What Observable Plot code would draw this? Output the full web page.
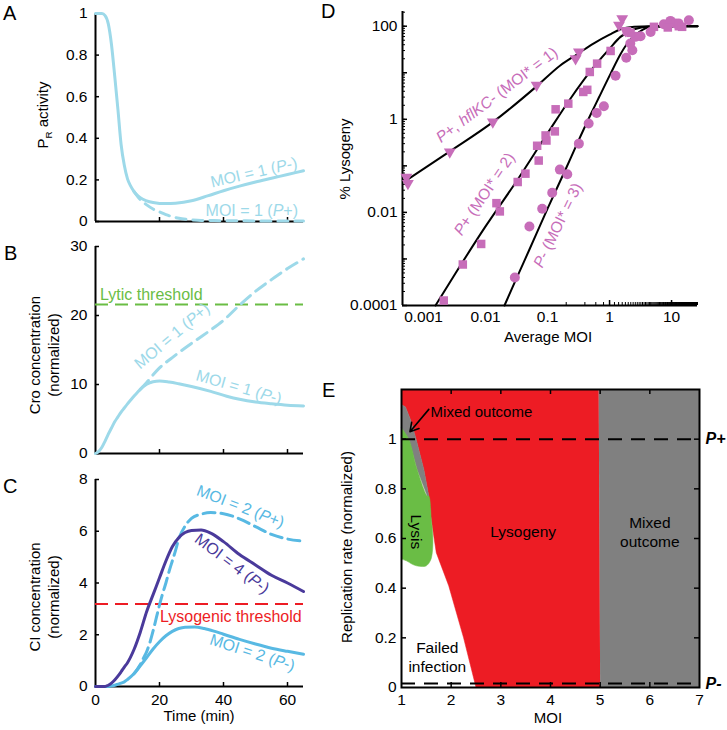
<!DOCTYPE html>
<html><head><meta charset="utf-8">
<script src="https://cdn.jsdelivr.net/npm/d3@7"></script>
<script src="https://cdn.jsdelivr.net/npm/@observablehq/plot@0.6"></script>
<style>
html,body{margin:0;padding:0;background:#fff;}
#wrap{position:relative;width:727px;height:730px;overflow:hidden;font-family:"Liberation Sans",Arial,Helvetica,sans-serif;}
</style></head>
<body><div id="wrap"></div>
<script>
// ---------------- DATA ----------------
// Panel A: PR activity vs time
const aTime  = [0,2,3,4,5,6,7,8,9,10,11,12,13,14,16,18,20,22,25,30,35,40,45,50,55,60,65];
const aSolid = [1,1,0.99,0.95,0.85,0.70,0.54,0.37,0.27,0.205,0.17,0.145,0.127,0.114,0.099,0.091,0.087,0.086,0.088,0.1,0.123,0.148,0.17,0.19,0.208,0.226,0.244];
const aDashTime = [12,14,16,18,20,22,24,27,30,33,40,50,65];
const aDash     = [0.145,0.105,0.08,0.06,0.046,0.033,0.023,0.013,0.008,0.005,0.004,0.003,0.003];
const aYTicks = [0,0.2,0.4,0.6,0.8,1];
// Panel B: Cro
const bTime  = [0,1,2,3,4,5,6,7,8,9,10,11,12,13,14,16,18,20,23,26,30,36,41,45,50,55,60,65];
const bSolid = [0,0.3,0.9,1.8,2.8,3.7,4.6,5.3,6.0,6.6,7.2,7.75,8.3,8.8,9.3,10.05,10.4,10.5,10.35,10.1,9.7,9.0,8.3,7.85,7.45,7.2,7.0,6.9];
const bDashTime = [14,16,18,20,24,28,32,36,40,45,50,55,60,65];
const bDash     = [9.3,10.3,11.4,12.4,13.9,15.3,16.6,17.9,19.3,21.5,23.5,25.2,26.8,28.2];
const bYTicks = [0,10,20,30];
const lyticThreshold = 21.6;
// Panel C: CI
const cTime   = [0,3,4,5,6,7,8,9,10,12,14,16,18,20,22,24,26,28,30,33,36,40,45,50,55,60,65];
const cMoi4   = [0,0,0.05,0.13,0.25,0.40,0.57,0.75,0.92,1.42,2.1,2.9,3.55,4.2,4.85,5.4,5.75,5.95,6.03,6.05,5.93,5.6,5.1,4.7,4.3,4.0,3.67];
const cLTime  = [0,4,5,6,7,8,9,10,12,14,16,18,20,22,24,26,28,31,34,37,40,45,50,55,60,65];
const cMoi2   = [0,0,0.02,0.05,0.09,0.13,0.18,0.27,0.49,0.8,1.12,1.45,1.73,1.96,2.13,2.24,2.29,2.3,2.24,2.14,2.02,1.82,1.64,1.48,1.36,1.25];
const cDTime  = [12,14,15,16,17,18,19,20,21,22,23,24,25,26,28,30,33,36,40,45,50,55,60,65];
const cMoi2P  = [0.49,0.85,1.1,1.35,1.7,2.15,2.65,3.15,3.6,4.0,4.45,4.85,5.25,5.7,6.2,6.5,6.66,6.72,6.68,6.48,6.18,5.88,5.7,5.62];
const cYTicks = [0,2,4,6,8];
const lysoThreshold = 3.19;
const timeTicks = [20,40,60];
const timeLabels = [0,20,40,60];
// Panel D: % lysogeny vs average MOI
const triMoi = [0.00053,0.00056,0.00265,0.0131,0.0666,0.283,0.32,1.42,1.6,1.81];
const triLys = [0.057,0.042,0.2,0.88,5.4,20,28,105,146,80];
const sqMoi = [0.00212,0.0043,0.0085,0.015,0.017,0.033,0.044,0.068,0.072,0.093,0.096,0.131,0.135,0.216,0.377,0.437,0.48,0.63,1.04,1.9,2.18,5.2,8.7,13.1,14.8];
const sqLys = [0.000128,0.00076,0.0021,0.0158,0.0105,0.045,0.068,0.27,0.13,0.45,0.35,0.55,1.64,2.17,3.87,4.3,10.4,15.7,29.4,78,72,97,94,100,97];
const ciMoi = [0.0297,0.051,0.082,0.119,0.158,0.208,0.32,0.46,0.62,0.81,1.25,1.86,2.33,2.16,2.6,3.16,4.6,7.5,9.6,11.5,13,19];
const ciLys = [0.0004,0.005,0.012,0.0265,0.083,0.066,0.30,0.81,1.37,1.9,8.6,21,30.5,42.5,59,61,75,110,130,114,115,134];
const fit1Moi = [0.00052,0.00266,0.0131,0.0665,0.162,0.3,0.558,1.0,1.5,2.5,4.5,26.2];
const fit1Lys = [0.048,0.205,0.87,5.1,14.5,25,43,66,86,97,100,100];
const fit2Moi = [0.00156,0.0033,0.01,0.0324,0.1,0.235,0.558,1.0,1.5,2.5,4.6,10,26.2];
const fit2Lys = [0.0001,0.0005,0.005,0.049,0.5,2.8,13.3,33,59,86,99,100,100];
const fit3Moi = [0.0202,0.03,0.05,0.1,0.2,0.3,0.5,0.67,1.04,1.5,1.93,3,4.6,10,26.2];
const fit3Lys = [0.0001,0.00033,0.0015,0.012,0.09,0.3,1.3,2.9,9.6,25,42.5,75,97,100,100];
const dXLabels = [0.001,0.01,0.1,1,10];
const dYLabels = [0.0001,0.01,1,100];
const dYMajor = [0.0001,0.001,0.01,0.1,1,10,100];
const dXDomain = [0.000458,26.2];
const dYDomain = [0.0001,207];
// Panel E: phase diagram (region outlines: MOI, replication rate)
const redM = [1.0,4.97,5.0,2.5,2.25,1.95,1.70,1.60,1.55,1.45,1.295,1.18,1.08,1.0];
const redR = [1.2,1.2,0,0,0.2,0.41,0.543,0.677,0.771,0.878,1.0,1.079,1.13,1.139];
const grayRM = [4.97,7,7,5.0];
const grayRR = [1.2,1.2,0,0];
const wedgeM = [1.0,1.08,1.18,1.295,1.45,1.55,1.52,1.315,1.147,1.0];
const wedgeR = [1.139,1.13,1.079,1.0,0.878,0.771,0.771,0.878,1.0,1.045];
const greenM = [1.0,1.147,1.315,1.52,1.55,1.60,1.63,1.62,1.58,1.5,1.42,1.3,1.21,1.1,1.0];
const greenR = [1.045,1.0,0.878,0.771,0.771,0.677,0.61,0.543,0.51,0.49,0.487,0.49,0.497,0.51,0.517];
const eXTicks = [1,2,3,4,5,6,7];
const eYTicks = [0,0.2,0.4,0.6,0.8,1];
const pPlus = 1, pMinus = 0.016;

// ---------------- HELPERS ----------------
const FONT = '"Liberation Sans", Arial, Helvetica, sans-serif';
const LB = "#9dd9e9", CB = "#58b9e3", PUR = "#4a3a9b", GRN = "#6abd45", RED = "#ed1c24", GRY = "#808080", MAG = "#c76db9";
const wrap = document.getElementById("wrap");
const style = {fontFamily: FONT, fontSize: "15.5px", color: "#000", background: "none", overflow: "visible"};
const fmt = d => String(d);
const zip = (xs, ys) => xs.map((x, i) => ({x, y: ys[i]}));
function place(el, left, top) { el.style.position = "absolute"; el.style.left = left + "px"; el.style.top = top + "px"; el.style.maxWidth = "none"; wrap.appendChild(el); return el; }
function svgText(svg, x, y, parts, o = {}) {
  const t = d3.select(svg).append("text")
    .attr("transform", `translate(${x},${y}) rotate(${o.rotate || 0})`)
    .attr("text-anchor", o.anchor || "middle")
    .attr("dy", o.dy == null ? "0.35em" : o.dy)
    .attr("fill", o.fill || "#000")
    .attr("font-size", o.size || 15.5)
    .attr("font-family", FONT);
  if (o.weight) t.attr("font-weight", o.weight);
  let shifted = false;
  for (const p of parts) {
    const q = typeof p === "string" ? {t: p} : p;
    const s = t.append("tspan").text(q.t);
    if (q.i) s.attr("font-style", "italic");
    if (q.sub) { s.attr("font-size", (o.size || 15.5) * 0.65).attr("dy", 4); shifted = true; }
    else if (shifted) { s.attr("dy", -4); shifted = false; }
  }
  return t;
}
function dataText(plot, x, y, parts, o) { return svgText(plot, plot.scale("x").apply(x), plot.scale("y").apply(y), parts, o); }
const dashLbl = (pre, mid, post) => [pre, {t: mid, i: true}, post];

function timePanel({height, marginBottom, yDomain, yTicks, labels, marks}) {
  const PW = 208, PH = height - 13 - marginBottom;
  return Plot.plot({
    width: 320, height, marginLeft: 95, marginRight: 17, marginTop: 13, marginBottom,
    style, x: {domain: [0, 65]}, y: {domain: yDomain},
    marks: [
      Plot.ruleX([0], {stroke: "#000", strokeWidth: 2}),
      Plot.ruleY([yDomain[0]], {stroke: "#000", strokeWidth: 2}),
      Plot.tickY(yTicks, {y: d => d, stroke: "#000", strokeWidth: 1.5, insetRight: PW - 4}),
      Plot.tickX(timeTicks, {x: d => d, stroke: "#000", strokeWidth: 1.5, insetTop: PH - 4}),
      Plot.axisY({ticks: yTicks, tickSize: 0, tickPadding: 8, tickFormat: fmt, label: null}),
      Plot.axisX({ticks: labels ? timeLabels : [], tickSize: 0, tickPadding: 7, tickFormat: fmt, label: null}),
      ...marks
    ]
  });
}

// ---------------- PANEL A ----------------
const pA = timePanel({height: 235, marginBottom: 14, yDomain: [0, 1], yTicks: aYTicks, labels: false, marks: [
  Plot.line(zip(aTime, aSolid), {x: "x", y: "y", stroke: LB, strokeWidth: 3, curve: "monotone-x"}),
  Plot.line(zip(aDashTime, aDash), {x: "x", y: "y", stroke: LB, strokeWidth: 3, strokeDasharray: "10,7", curve: "monotone-x"})
]});
place(pA, 0, 0);
svgText(pA, 3, 20, ["A"], {anchor: "start", dy: 0, size: 20});
svgText(pA, 43, 115, ["P", {t: "R", sub: true}, " activity"], {rotate: -90, size: 15});
dataText(pA, 49.6, 0.235, dashLbl("MOI = 1 (", "P", "-)"), {fill: LB, rotate: -13, size: 16});
dataText(pA, 49, 0.053, dashLbl("MOI = 1 (", "P", "+)"), {fill: LB, size: 16});

// ---------------- PANEL B ----------------
const pB = timePanel({height: 234, marginBottom: 14, yDomain: [0, 30], yTicks: bYTicks, labels: false, marks: [
  Plot.ruleY([lyticThreshold], {stroke: GRN, strokeWidth: 2, strokeDasharray: "13,7"}),
  Plot.line(zip(bTime, bSolid), {x: "x", y: "y", stroke: LB, strokeWidth: 3, curve: "monotone-x"}),
  Plot.line(zip(bDashTime, bDash), {x: "x", y: "y", stroke: LB, strokeWidth: 3, strokeDasharray: "12,7", curve: "monotone-x"})
]});
place(pB, 0, 233);
svgText(pB, 4, 27, ["B"], {anchor: "start", dy: 0, size: 20});
svgText(pB, 35, 122, ["Cro concentration"], {rotate: -90, size: 15});
svgText(pB, 54, 122, ["(normalized)"], {rotate: -90, size: 15});
dataText(pB, 1.56, 23.0, ["Lytic threshold"], {fill: GRN, anchor: "start", size: 16});
dataText(pB, 24.0, 17.0, dashLbl("MOI = 1 (", "P", "+)"), {fill: LB, rotate: -40, size: 16});
dataText(pB, 45, 9.6, dashLbl("MOI = 1 (", "P", "-)"), {fill: LB, rotate: 16, size: 16});

// ---------------- PANEL C ----------------
const pC = timePanel({height: 264, marginBottom: 44, yDomain: [0, 8], yTicks: cYTicks, labels: true, marks: [
  Plot.ruleY([lysoThreshold], {stroke: RED, strokeWidth: 2, strokeDasharray: "13,7"}),
  Plot.line(zip(cLTime, cMoi2), {x: "x", y: "y", stroke: CB, strokeWidth: 3, curve: "monotone-x"}),
  Plot.line(zip(cDTime, cMoi2P), {x: "x", y: "y", stroke: CB, strokeWidth: 3, strokeDasharray: "12,6", curve: "monotone-x"}),
  Plot.line(zip(cTime, cMoi4), {x: "x", y: "y", stroke: PUR, strokeWidth: 3, curve: "monotone-x"})
]});
place(pC, 0, 466);
svgText(pC, 3, 27, ["C"], {anchor: "start", dy: 0, size: 20});
svgText(pC, 35, 131, ["CI concentration"], {rotate: -90, size: 15});
svgText(pC, 54, 131, ["(normalized)"], {rotate: -90, size: 15});
svgText(pC, 199, 250, ["Time (min)"], {size: 15});
dataText(pC, 45.5, 6.95, dashLbl("MOI = 2 (", "P", "+)"), {fill: CB, rotate: 21, size: 16});
dataText(pC, 42.9, 4.74, dashLbl("MOI = 4 (", "P", "-)"), {fill: PUR, rotate: 37, size: 16});
dataText(pC, 49.2, 1.3, dashLbl("MOI = 2 (", "P", "-)"), {fill: CB, rotate: 18, size: 16});
dataText(pC, 64.6, 2.7, ["Lysogenic threshold"], {fill: RED, anchor: "end", size: 16});

// ---------------- PANEL D ----------------
const triDown = {draw(ctx, size) {
  const a = Math.sqrt(4 * size / Math.sqrt(3)), h = a * Math.sqrt(3) / 2;
  ctx.moveTo(-a / 2, -h / 3); ctx.lineTo(a / 2, -h / 3); ctx.lineTo(0, 2 * h / 3); ctx.closePath();
}};
const dPW = 295, dPH = 294;
const dXMinor = d3.scaleLog().domain(dXDomain).ticks(100);
const dYMinor = d3.scaleLog().domain(dYDomain).ticks(100);
const dXMajor = dXMinor.filter(v => Math.abs(Math.log10(v) - Math.round(Math.log10(v))) < 1e-9);
const pD = Plot.plot({
  width: 411, height: 345, marginLeft: 86, marginRight: 30, marginTop: 11, marginBottom: 40,
  style,
  x: {type: "log", domain: dXDomain},
  y: {type: "log", domain: dYDomain},
  marks: [
    Plot.ruleX([dXDomain[0]], {stroke: "#000", strokeWidth: 2}),
    Plot.ruleY([dYDomain[0]], {stroke: "#000", strokeWidth: 2}),
    Plot.tickX(dXMinor, {x: d => d, stroke: "#000", strokeWidth: 1, insetTop: dPH - 3}),
    Plot.tickX(dXMajor, {x: d => d, stroke: "#000", strokeWidth: 1.5, insetTop: dPH - 5}),
    Plot.tickY(dYMinor, {y: d => d, stroke: "#000", strokeWidth: 1, insetRight: dPW - 3}),
    Plot.tickY(dYMajor, {y: d => d, stroke: "#000", strokeWidth: 1.5, insetRight: dPW - 5}),
    Plot.axisX({ticks: dXLabels, tickSize: 0, tickPadding: 5, tickFormat: fmt, label: null}),
    Plot.axisY({ticks: dYLabels, tickSize: 0, tickPadding: 5, tickFormat: fmt, label: null}),
    Plot.line(zip(fit1Moi, fit1Lys), {x: "x", y: "y", stroke: "#000", strokeWidth: 2, curve: "monotone-x"}),
    Plot.line(zip(fit2Moi, fit2Lys), {x: "x", y: "y", stroke: "#000", strokeWidth: 2, curve: "monotone-x"}),
    Plot.line(zip(fit3Moi, fit3Lys), {x: "x", y: "y", stroke: "#000", strokeWidth: 2, curve: "monotone-x"}),
    Plot.dot(zip(ciMoi, ciLys), {x: "x", y: "y", r: 5, fill: MAG, symbol: "circle"}),
    Plot.dot(zip(sqMoi, sqLys), {x: "x", y: "y", r: 4.8, fill: MAG, symbol: "square"}),
    Plot.dot(zip(triMoi, triLys), {x: "x", y: "y", r: 4.4, fill: MAG, symbol: triDown})
  ]
});
place(pD, 316, 0);
svgText(pD, 5, 18, ["D"], {anchor: "start", dy: 0, size: 20});
svgText(pD, 29, 159, ["% Lysogeny"], {rotate: -90, size: 15});
svgText(pD, 232, 337, ["Average MOI"], {size: 15});
dataText(pD, 0.0154, 3.3, [{t: "P", i: true}, "+, ", {t: "hflKC", i: true}, "- (MOI* = 1)"], {fill: MAG, rotate: -37, size: 15.5});
dataText(pD, 0.00964, 0.0244, [{t: "P", i: true}, "+ (MOI* = 2)"], {fill: MAG, rotate: -56, size: 15.5});
dataText(pD, 0.147, 0.0052, [{t: "P", i: true}, "- (MOI* = 3)"], {fill: MAG, rotate: -64, size: 15.5});

// ---------------- PANEL E ----------------
const ePW = 298, ePH = 298;
const pE = Plot.plot({
  width: 411, height: 360, marginLeft: 85, marginRight: 28, marginTop: 19, marginBottom: 43,
  style,
  x: {domain: [1, 7]},
  y: {domain: [0, 1.2]},
  marks: [
    Plot.line(zip(redM, redR), {x: "x", y: "y", fill: RED, stroke: RED, strokeWidth: 0.5, curve: "linear"}),
    Plot.line(zip(grayRM, grayRR), {x: "x", y: "y", fill: GRY, stroke: GRY, strokeWidth: 0.5, curve: "linear"}),
    Plot.line(zip(wedgeM, wedgeR), {x: "x", y: "y", fill: GRY, stroke: GRY, strokeWidth: 0.5, curve: "linear"}),
    Plot.line(zip(greenM, greenR), {x: "x", y: "y", fill: GRN, stroke: GRN, strokeWidth: 0.5, curve: "catmull-rom"}),
    Plot.ruleY([pPlus, pMinus], {stroke: "#000", strokeWidth: 2, strokeDasharray: "14,9"}),
    Plot.frame({stroke: "#000", strokeWidth: 2}),
    Plot.tickX(eXTicks.slice(1, -1), {x: d => d, stroke: "#000", strokeWidth: 1.5, insetTop: ePH - 5}),
    Plot.tickX(eXTicks.slice(1, -1), {x: d => d, stroke: "#000", strokeWidth: 1.5, insetBottom: ePH - 5}),
    Plot.tickY(eYTicks.slice(1), {y: d => d, stroke: "#000", strokeWidth: 1.5, insetRight: ePW - 5}),
    Plot.tickY(eYTicks.slice(1), {y: d => d, stroke: "#000", strokeWidth: 1.5, insetLeft: ePW - 5}),
    Plot.axisX({ticks: eXTicks, tickSize: 0, tickPadding: 6, tickFormat: fmt, label: null}),
    Plot.axisY({ticks: eYTicks, tickSize: 0, tickPadding: 5, tickFormat: fmt, label: null}),
    Plot.text([{x: 3.45, y: 0.63, t: "Lysogeny"}, {x: 6.0, y: 0.629, t: "Mixed\noutcome"}, {x: 1.72, y: 0.124, t: "Failed\ninfection"}],
      {x: "x", y: "y", text: "t", fontSize: 15.5, lineHeight: 1.22, fill: "#000"}),
    Plot.text([{x: 1.30, y: 0.627, t: "Lysis"}], {x: "x", y: "y", text: "t", fontSize: 15.5, rotate: 90, fill: "#000"}),
    Plot.text([{x: 1.585, y: 1.11, t: "Mixed outcome"}], {x: "x", y: "y", text: "t", fontSize: 15, textAnchor: "start", fill: "#000"}),
    Plot.arrow([{x1: 1.55, y1: 1.12, x2: 1.17, y2: 1.03}], {x1: "x1", y1: "y1", x2: "x2", y2: "y2", stroke: "#000", strokeWidth: 1.6, headLength: 9}),
    Plot.text([{y: pPlus, t: "P+"}, {y: pMinus, t: "P-"}], {x: 7, y: "y", text: "t", dx: 6, textAnchor: "start", fontWeight: "bold", fontStyle: "italic", fontSize: 16, fill: "#000"})
  ]
});
place(pE, 316, 370);
svgText(pE, 6, 27, ["E"], {anchor: "start", dy: 0, size: 20});
svgText(pE, 31, 177, ["Replication rate (normalized)"], {rotate: -90, size: 15});
svgText(pE, 232, 348, ["MOI"], {size: 15});
</script></body></html>
